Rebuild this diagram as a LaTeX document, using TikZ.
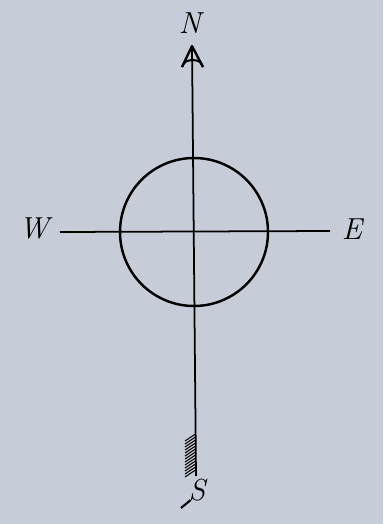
\documentclass[tikz,border=0pt]{standalone}
\definecolor{paper}{RGB}{199,205,216}
\tikzset{
  pen/.style={line width=1pt, black},
  letter/.style={font=\LARGE\itshape, inner sep=1pt}
}
\begin{document}
\begin{tikzpicture}[x=0.02cm,y=-0.02cm]
\fill[paper] (0,0) rectangle (383,524);
\useasboundingbox (0,0) rectangle (383,524);
% axes
\coordinate (c) at (194,232);
\coordinate (top) at (192,46);
\coordinate (bot) at (196,476);
\coordinate (west) at (60,232);
\coordinate (east) at (330,231);
\draw[pen] (top) -- (bot);
\draw[pen] (west) -- (east);
\draw[line width=1.4pt] (c) circle (74);
% arrow head
\draw[pen, line width=1.3pt, line join=round] (182,67) -- (top) -- (203,67);
\draw[pen, line width=1.2pt] (182,67) .. controls (185,61) .. (193,60) .. controls (200,61) .. (203,67);
% hatching
\foreach \y in {434,437,...,472}
  \draw[line width=0.6pt] (185,\y+7) -- (195.5,\y);
% letters
\node[letter] (N) at (190,23) {N};
\node[letter] (W) at (34,228) {W};
\node[letter] (E) at (352,229) {E};
\node[letter] (S) at (197,490) {S};
\coordinate (tail) at (181,508);
\draw[pen, line width=1.2pt] (S.south west) ++(4,-3) -- (tail);
\end{tikzpicture}
\end{document}
